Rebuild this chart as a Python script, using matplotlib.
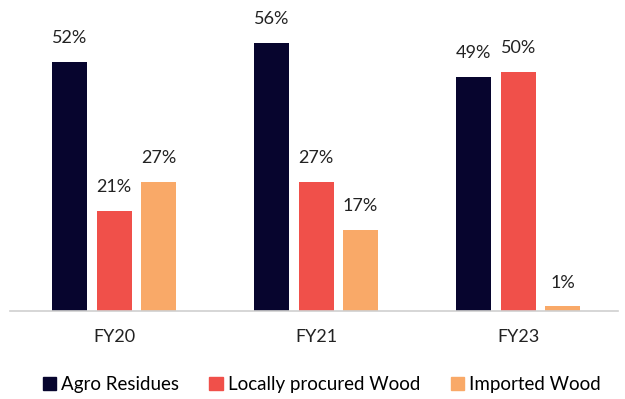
import numpy as np
import matplotlib.pyplot as plt
from matplotlib.patches import Patch

years = ['FY20', 'FY21', 'FY23']
agro = [52, 56, 49]
local_wood = [21, 27, 50]
imported_wood = [27, 17, 1]

series = [('Agro Residues', agro, '#07052e'),
          ('Locally procured Wood', local_wood, '#f0504a'),
          ('Imported Wood', imported_wood, '#f9a968')]

plt.rcParams['font.family'] = ['Lato', 'DejaVu Sans']

fig = plt.figure(figsize=(6.25, 3.99), dpi=100)
ax = fig.add_axes([0.016, 0.22, 0.973, 0.78])

x = np.arange(len(years))
w = 0.173
step = 0.22
for i, (name, vals, col) in enumerate(series):
    pos = x + (i - 1) * step
    bars = ax.bar(pos, vals, width=w, color=col, label=name)
    for b, v in zip(bars, vals):
        ax.text(b.get_x() + b.get_width() / 2, v + 3.3, f'{v}%',
                ha='center', va='bottom', fontsize=13, color='#222222')

ax.set_xlim(-0.515, 2.495)
ax.set_ylim(0, 65)
ax.set_xticks(x)
ax.set_xticklabels(years, fontsize=13, color='#222222')
ax.tick_params(axis='x', length=0, pad=13)
ax.set_yticks([])
for s in ['top', 'right', 'left']:
    ax.spines[s].set_visible(False)
ax.spines['bottom'].set_color('#d0d0d0')
ax.spines['bottom'].set_linewidth(1.2)

handles = [Patch(color=c, label=n) for n, _, c in series]
fig.legend(handles=handles, loc='lower center', bbox_to_anchor=(0.515, -0.028),
           ncol=3, frameon=False, fontsize=13.5, handlelength=0.7, handleheight=0.7,
           handletextpad=0.3, columnspacing=1.6)

fig.savefig('out.png', dpi=100)
